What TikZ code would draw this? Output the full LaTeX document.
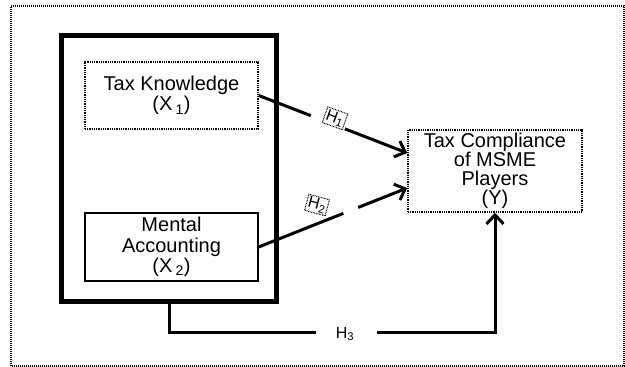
\documentclass[tikz,border=0pt]{standalone}
\usepackage{fontspec}
\setmainfont{Liberation Sans}
\usetikzlibrary{arrows.meta,calc}
\begin{document}
\begin{tikzpicture}[x=1pt,y=-1pt,
 box/.style={draw, line width=1.2pt, minimum width=173pt, align=center, font=\fontsize{20}{20.5}\selectfont, inner sep=0pt},
 dotbox/.style={box, line width=1.5pt, dash pattern=on 1pt off 0.8pt},
 conn/.style={line width=3pt},
 arr/.style={conn, -{Straight Barb[length=9pt,width=17pt,line width=3pt]}},
 hlab/.style={font=\fontsize{16}{16}\selectfont, inner sep=1.5pt},
 hbox/.style={hlab, draw, line width=1pt, dash pattern=on 0.8pt off 0.8pt}]
\useasboundingbox (0,0) rectangle (625,367);
\draw[line width=1.5pt, dash pattern=on 1pt off 1pt] (11,366) -- (11,6) -- (624,6) -- (624,366) -- cycle;
\node[draw, line width=5pt, minimum width=215.5pt, minimum height=266pt, inner sep=0pt] (grp) at (169,168.5) {};
\node[dotbox, minimum height=67pt] (tk) at (171.5,95.5) {Tax Knowledge\\(X\,\textsubscript{1})};
\node[box, minimum height=68pt] (ma) at (171.5,247) {Mental\\Accounting\\(X\,\textsubscript{2})};
\node[dotbox, minimum width=174pt, minimum height=82pt, font=\fontsize{20}{19}\selectfont] (tc) at (495,171) {Tax Compliance\\of MSME\\Players\\(Y)};
\coordinate (t1) at ($(tc.west)+(0,-18)$);
\coordinate (t2) at ($(tc.west)+(0,17)$);
\draw[conn] (tk.east) -- ($(tk.east)!0.35!(t1)$);
\draw[arr] ($(tk.east)!0.58!(t1)$) -- (t1);
\node[hbox, rotate=-20] (h1) at ($(tk.east)!0.5!(t1)+(2,-6)$) {H\textsubscript{1}};
\draw[conn] (ma.east) -- ($(ma.east)!0.57!(t2)$);
\draw[arr] ($(ma.east)!0.67!(t2)$) -- (t2);
\node[hbox, rotate=-15] (h2) at (317,205) {H\textsubscript{2}};
\coordinate (c1) at (169,332);
\coordinate (c2) at (495,332);
\draw[conn] (grp.south) -- (c1) -- (316,332);
\draw[arr] (377,332) -- (c2) -- (tc.south);
\node[hlab] (h3) at (345,334) {H\textsubscript{3}};
\end{tikzpicture}
\end{document}
